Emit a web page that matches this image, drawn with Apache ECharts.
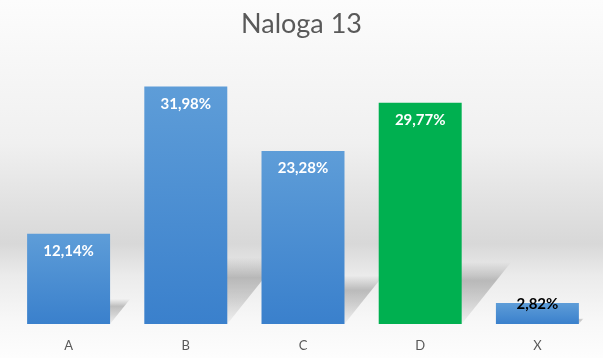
<!DOCTYPE html>
<html>
<head>
<meta charset="utf-8">
<script src="https://cdn.jsdelivr.net/npm/echarts@6/dist/echarts.min.js"></script>
<style>
html,body{margin:0;padding:0;background:#fff;}
#chart{width:603px;height:358px;}
</style>
</head>
<body>
<div id="chart"></div>
<script>
const titleText = "Naloga 13";
const categories = ["A", "B", "C", "D", "X"];
const values = [12.14, 31.98, 23.28, 29.77, 2.82];
const highlightIndex = 3;

const blueGrad = new echarts.graphic.LinearGradient(0, 0, 0, 1, [
  {offset: 0, color: '#5e9dd8'},
  {offset: 1, color: '#3a80cc'}
]);
const fmt = v => v.toFixed(2).replace('.', ',') + '%';

const barData = values.map((v, i) => {
  const item = {value: v};
  if (i === highlightIndex) item.itemStyle = {color: '#00b050'};
  if (v < 5) item.label = {position: 'top', distance: -9, color: '#000'};
  return item;
});

const chart = echarts.init(document.getElementById('chart'), null, {renderer: 'canvas'});
chart.setOption({
  animation: false,
  backgroundColor: new echarts.graphic.LinearGradient(0, 0, 0, 1, [
    {offset: 0, color: '#fcfcfc'},
    {offset: 0.4, color: '#f0f0f0'},
    {offset: 0.68, color: '#d8d8d8'},
    {offset: 0.77, color: '#ebebeb'},
    {offset: 0.9, color: '#f8f8f8'},
    {offset: 1, color: '#fdfdfd'}
  ]),
  title: {
    text: titleText,
    left: 'center',
    top: 6,
    textStyle: {fontFamily: 'Lato', fontSize: 27, fontWeight: 'normal', color: '#595959'}
  },
  grid: {left: 10, right: 7, top: 64, bottom: 34},
  xAxis: {
    type: 'category',
    data: categories,
    axisLine: {show: false},
    axisTick: {show: false},
    axisLabel: {color: '#595959', fontFamily: 'Lato', fontSize: 13, margin: 15}
  },
  yAxis: {
    type: 'value', min: 0, max: 35, show: false,
    splitLine: {show: false}
  },
  series: [
    {
      type: 'custom',
      z: 1,
      silent: true,
      data: values.map((v, i) => [i, v]),
      renderItem: function (params, api) {
        const top = api.coord([api.value(0), api.value(1)]);
        const base = api.coord([api.value(0), 0]);
        const w = api.size([1, 0])[0] * 0.708;
        const x0 = base[0] - w / 2, x1 = base[0] + w / 2;
        const h = (base[1] - top[1]) * 0.28;
        const dx = h * 0.8;
        return {
          type: 'polygon',
          shape: {points: [[x0, base[1]], [x1, base[1]], [x1 + dx, base[1] - h], [x0 + dx, base[1] - h]]},
          style: {
            fill: new echarts.graphic.LinearGradient(0, 0, 0, 1, [
              {offset: 0, color: 'rgba(0,0,0,0)'},
              {offset: 0.3, color: 'rgba(0,0,0,0.22)'},
              {offset: 0.6, color: 'rgba(0,0,0,0.15)'},
              {offset: 1, color: 'rgba(0,0,0,0.03)'}
            ])
          }
        };
      }
    },
    {
      type: 'bar',
      z: 2,
      data: barData,
      barWidth: '70.8%',
      itemStyle: {color: blueGrad},
      label: {
        show: true,
        position: 'insideTop',
        distance: 10,
        color: '#ffffff',
        fontFamily: 'Lato',
        fontWeight: 'bold',
        fontSize: 15,
        formatter: p => fmt(p.value)
      }
    }
  ]
});
</script>
</body>
</html>
